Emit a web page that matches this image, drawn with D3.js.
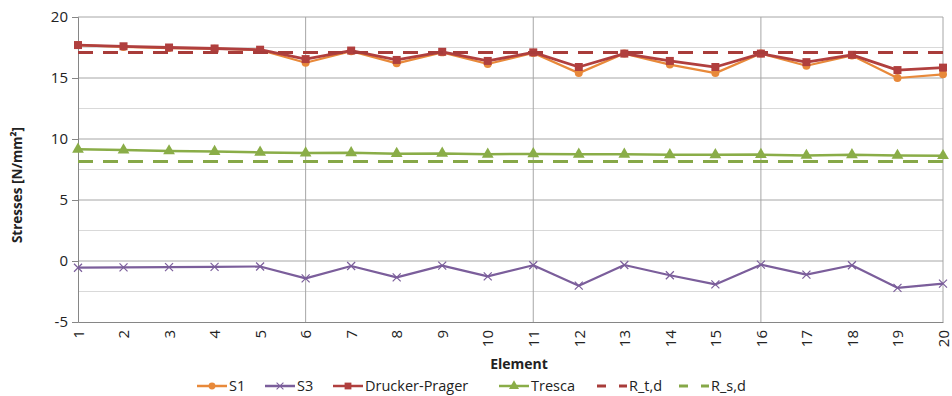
<!DOCTYPE html>
<html>
<head>
<meta charset="utf-8">
<title>Stresses per element</title>
<style>
  body { margin: 0; background: #fff; }
  text { font-family: "Open Sans", "Noto Sans", sans-serif; fill: #222; }
</style>
</head>
<body>
<div id="chart"></div>
<script src="https://cdn.jsdelivr.net/npm/d3@7"></script>
<script>
// data
var elements = d3.range(1, 21);
var s1 = [17.7, 17.55, 17.45, 17.4, 17.3, 16.25, 17.2, 16.2, 17.1, 16.15,
          17.05, 15.4, 17.0, 16.1, 15.4, 17.0, 16.0, 16.85, 15.0, 15.3];
var s3 = [-0.55, -0.52, -0.5, -0.48, -0.45, -1.42, -0.41, -1.34, -0.38, -1.26,
          -0.35, -2.02, -0.33, -1.17, -1.92, -0.3, -1.12, -0.35, -2.2, -1.86];
var druckerPrager = [17.7, 17.6, 17.5, 17.42, 17.32, 16.55, 17.25, 16.48, 17.15, 16.4,
                     17.1, 15.9, 17.0, 16.4, 15.9, 17.0, 16.3, 16.9, 15.65, 15.85];
var tresca = [9.15, 9.1, 9.02, 8.97, 8.9, 8.85, 8.87, 8.8, 8.82, 8.75,
              8.78, 8.75, 8.75, 8.7, 8.7, 8.72, 8.65, 8.7, 8.65, 8.63];
var rtd = 17.1;
var rsd = 8.15;
var yTicks = [-5, 0, 5, 10, 15, 20];

var width = 952, height = 396;
var margin = {left: 78, right: 9, top: 17, bottom: 74};

var svg = d3.select("#chart").append("svg")
    .attr("width", width)
    .attr("height", height);

var x = d3.scalePoint()
    .domain(elements)
    .range([margin.left, width - margin.right]);

var y = d3.scaleLinear()
    .domain([-5, 20])
    .range([height - margin.bottom, margin.top]);

// minor gridlines every 2.5
svg.append("g").selectAll("line")
    .data(d3.range(-2.5, 20, 5))
    .enter().append("line")
    .attr("x1", x(1)).attr("x2", x(20))
    .attr("y1", function(d) { return y(d); })
    .attr("y2", function(d) { return y(d); })
    .attr("stroke", "#d9d9d9").attr("stroke-width", 1);

// major gridlines
svg.append("g").selectAll("line")
    .data(yTicks.slice(1))
    .enter().append("line")
    .attr("x1", x(1)).attr("x2", x(20))
    .attr("y1", function(d) { return y(d); })
    .attr("y2", function(d) { return y(d); })
    .attr("stroke", "#a6a6a6").attr("stroke-width", 1);

// vertical gridlines
svg.append("g").selectAll("line")
    .data([6, 11, 16, 20])
    .enter().append("line")
    .attr("x1", function(d) { return x(d); })
    .attr("x2", function(d) { return x(d); })
    .attr("y1", y(20)).attr("y2", y(-5))
    .attr("stroke", "#a6a6a6").attr("stroke-width", 1);

// axes
var yAxis = svg.append("g")
    .attr("transform", "translate(" + x(1) + ",0)")
    .call(d3.axisLeft(y).tickValues(yTicks).tickSize(6).tickPadding(4)
      .tickFormat(function(d) { return String(d); }));
yAxis.select(".domain").attr("stroke", "#868686");
yAxis.selectAll(".tick line").attr("stroke", "#868686");
yAxis.selectAll("text").attr("font-size", 15).attr("fill", "#222")
    .style("font-family", "'Open Sans', sans-serif");

var xAxis = svg.append("g")
    .attr("transform", "translate(0," + y(-5) + ")")
    .call(d3.axisBottom(x).tickSize(0).tickPadding(0));
xAxis.select(".domain").attr("stroke", "#868686");
xAxis.selectAll("text")
    .attr("font-size", 15).attr("fill", "#222")
    .style("font-family", "'Open Sans', sans-serif")
    .attr("text-anchor", "end")
    .attr("dy", "0.35em")
    .attr("transform", "translate(0,8) rotate(-90)")
    .attr("x", 0).attr("y", 0);

// axis titles
svg.append("text")
    .attr("transform", "translate(22," + 185 + ") rotate(-90)")
    .attr("text-anchor", "middle")
    .attr("font-size", 13.5).attr("font-weight", "bold")
    .text("Stresses [N/mm²]");

svg.append("text")
    .attr("x", 519).attr("y", 369)
    .attr("text-anchor", "middle")
    .attr("font-size", 14).attr("font-weight", "bold")
    .text("Element");

var line = d3.line()
    .x(function(d, i) { return x(elements[i]); })
    .y(function(d) { return y(d); });

var colS1 = "#e8893a", colS3 = "#7b5e9b", colDP = "#b03f3e", colTr = "#8aad48";
var colRt = "#a83c3a", colRs = "#86a848";

function drawSeries(values, color, w, marker) {
  var g = svg.append("g");
  g.append("path").datum(values)
    .attr("d", line).attr("fill", "none")
    .attr("stroke", color).attr("stroke-width", w)
    .attr("stroke-linejoin", "round");
  g.selectAll(".m").data(values).enter().append("path")
    .attr("class", "m")
    .attr("transform", function(d, i) { return "translate(" + x(elements[i]) + "," + y(d) + ")"; })
    .attr("d", marker.path)
    .attr("fill", marker.fill ? color : "none")
    .attr("stroke", color)
    .attr("stroke-width", marker.fill ? 0 : 1.2);
}

var mCircle = {path: d3.symbol(d3.symbolCircle, 50)(), fill: true};
var mCross = {path: "M-4,-4L4,4M-4,4L4,-4", fill: false};
var mSquare = {path: d3.symbol(d3.symbolSquare, 64)(), fill: true};
var mTri = {path: d3.symbol(d3.symbolTriangle, 60)(), fill: true};

drawSeries(s1, colS1, 2.2, mCircle);
drawSeries(s3, colS3, 2.2, mCross);
drawSeries(druckerPrager, colDP, 2.8, mSquare);
drawSeries(tresca, colTr, 2.5, mTri);

function drawLimit(v, color) {
  svg.append("line")
    .attr("x1", x(1)).attr("x2", x(20))
    .attr("y1", y(v)).attr("y2", y(v))
    .attr("stroke", color).attr("stroke-width", 3)
    .attr("stroke-dasharray", "15,10");
}
drawLimit(rtd, colRt);
drawLimit(rsd, colRs);

// legend
var legendItems = [
  {name: "S1", color: colS1, marker: mCircle, dash: null, x: 197},
  {name: "S3", color: colS3, marker: mCross, dash: null, x: 265},
  {name: "Drucker-Prager", color: colDP, marker: mSquare, dash: null, x: 333},
  {name: "Tresca", color: colTr, marker: mTri, dash: null, x: 499},
  {name: "R_t,d", color: colRt, marker: null, dash: true, x: 597},
  {name: "R_s,d", color: colRs, marker: null, dash: true, x: 679}
];
var ly = 386;
var leg = svg.append("g").selectAll("g").data(legendItems).enter().append("g")
    .attr("transform", function(d) { return "translate(" + d.x + "," + ly + ")"; });
leg.each(function(d) {
  var g = d3.select(this);
  if (d.dash) {
    g.append("line").attr("x1", 0).attr("x2", 9).attr("stroke", d.color).attr("stroke-width", 3);
    g.append("line").attr("x1", 22).attr("x2", 30).attr("stroke", d.color).attr("stroke-width", 3);
  } else {
    g.append("line").attr("x1", 0).attr("x2", 30).attr("stroke", d.color).attr("stroke-width", 2.5);
    g.append("path").attr("transform", "translate(15,0) scale(0.85)")
      .attr("d", d.marker.path)
      .attr("fill", d.marker.fill ? d.color : "none")
      .attr("stroke", d.color).attr("stroke-width", d.marker.fill ? 0 : 1.2);
  }
  g.append("text").attr("x", 32).attr("dy", "0.35em")
    .attr("font-size", 14.5).text(d.name);
});
</script>
</body>
</html>
